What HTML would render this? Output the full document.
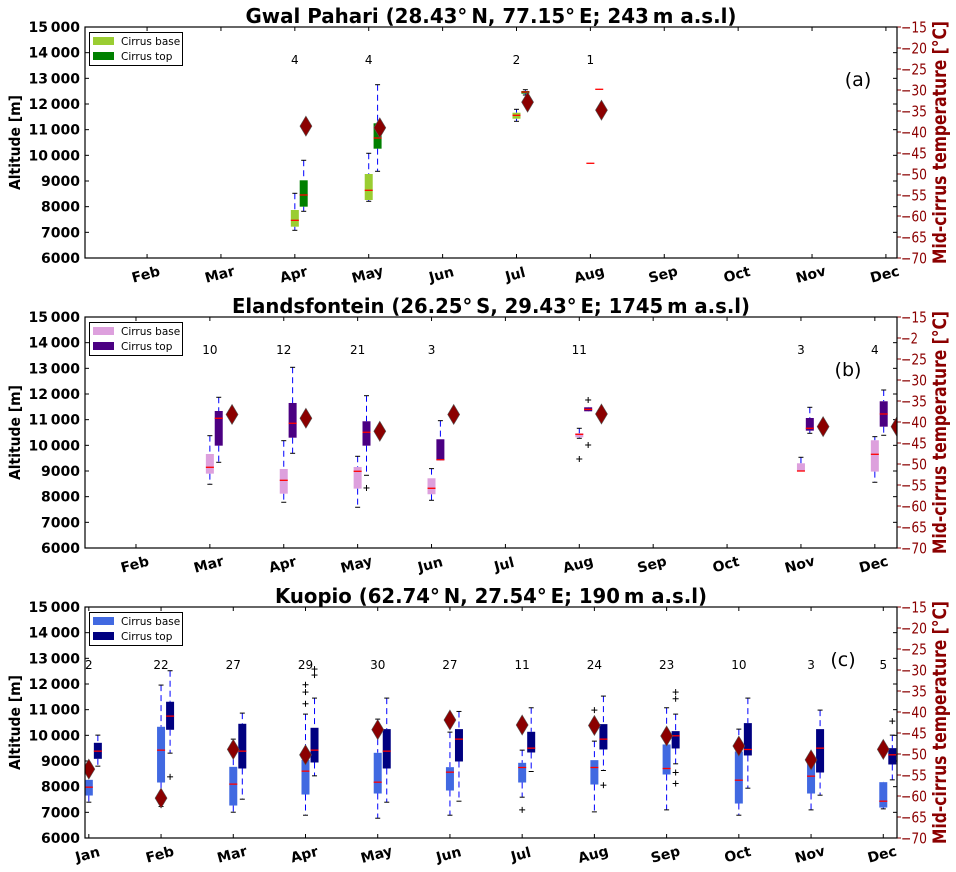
<!DOCTYPE html>
<html><head><meta charset="utf-8">
<style>
html,body{margin:0;padding:0;background:#fff;}
svg{display:block;font-family:"DejaVu Sans","Liberation Sans",sans-serif;}
</style></head>
<body>
<svg id="fig" width="956" height="872" viewBox="0 0 956 872" xmlns="http://www.w3.org/2000/svg"></svg>
<script>
// ---------- DATA ----------
const monthNames = ["Jan","Feb","Mar","Apr","May","Jun","Jul","Aug","Sep","Oct","Nov","Dec"];
const altTicks = [6000,7000,8000,9000,10000,11000,12000,13000,14000,15000];
const altTickLabels = ["6000","7000","8000","9000","10\u2009000","11\u2009000","12\u2009000","13\u2009000","14\u2009000","15\u2009000"];
const tempTicks = [-15,-20,-25,-30,-35,-40,-45,-50,-55,-60,-65,-70];

// Panel (a) Gwal Pahari: [whiskLo, q1, median, q3, whiskHi]
const aMonths = [4,5,7,8];
const aBase = [[7079,7220,7468,7870,8521],[8209,8260,8638,9273,10080],[11326,11427,11560,11661,11793],[9690,9690,9690,9690,9690]];
const aTop = [[7820,8000,8455,9027,9807],[9378,10259,10675,11248,12752],[12351,12403,12467,12506,12557],[12573,12573,12573,12573,12573]];
const aTemp = [-38.6,-39.0,-32.9,-34.8];
const aCounts = ["4","4","2","1"];
const aBaseOut = [[],[],[],[]];
const aTopOut = [[],[],[],[]];

// Panel (b) Elandsfontein
const bMonths = [3,4,5,6,8,11,12];
const bBase = [[8483,8896,9145,9663,10376],[7782,8117,8638,9079,10181],[7587,8313,8989,9157,9573],[7859,8094,8327,8716,9092],[10274,10313,10430,10469,10664],[9000,9000,9000,9300,9534],[8561,8977,9651,10197,10338]];
const bTop = [[9339,9987,11054,11338,11872],[9690,10298,10859,11650,13040],[8833,9987,10509,10937,11934],[9417,9417,9440,10236,10961],[11326,11326,11400,11482,11482],[10469,10572,10664,11065,11482],[10392,10727,11221,11716,12156]];
const bTemp = [-38.2,-39.1,-42.2,-38.2,-38.1,-41.1,-41.1];
const bCounts = ["10","12","21","3","11","3","4"];
const bBaseOut = [[],[],[],[],[9468],[],[]];
const bTopOut = [[],[],[8339],[],[10013,11767],[],[]];

// Panel (c) Kuopio
const cMonths = [1,2,3,4,5,6,7,8,9,10,11,12];
const cBase = [[7395,7655,7980,8266,8266],[7226,8162,9423,10333,11958],[7005,7265,8099,8773,9852],[6888,7694,8604,9046,10827],[6771,7733,8175,9319,10632],[6888,7850,8565,8760,10125],[7590,8162,8747,8929,9423],[7018,8084,8747,9033,9774],[7096,8474,8708,9644,11074],[6888,7343,8253,9371,10242],[7096,7733,8409,8981,9254],[7135,7187,7434,8175,8175]];
const cTop = [[8799,9085,9384,9709,10008],[9306,10216,10749,11308,12517],[7512,8708,9384,10450,10866],[8422,8942,9423,10294,11451],[7395,8708,9384,10242,11451],[7434,8981,9852,10242,10931],[8591,9332,9501,10138,11074],[8630,9449,9852,10437,11529],[8890,9488,9982,10164,10827],[7941,9215,9449,10476,11451],[7668,8552,9501,10242,10983],[8266,8864,9241,9501,10008]];
const cTemp = [-53.6,-60.5,-48.9,-50.2,-44.2,-41.9,-43.1,-43.2,-45.7,-48.1,-51.4,-48.9];
const cCounts = ["2","22","27","29","30","27","11","24","23","10","3","5"];
const cBaseOut = [[],[],[],[11230,11685,11971],[],[],[7096],[10983],[],[],[],[]];
const cTopOut = [[],[8383],[],[12348,12582],[],[],[],[8058],[11685,11425,8552,8123],[],[],[10554]];

// ---------- LAYOUT ----------
const panels = [
 {id:"a", title:"Gwal Pahari (28.43\u00b0\u2009N, 77.15\u00b0\u2009E; 243\u2009m a.s.l)", y0:27, y1:258, xmin:1.16, xmax:12.15, topOff:0.12, dOff:0.15,
  months:aMonths, base:aBase, top:aTop, temp:aTemp, counts:aCounts, bOut:aBaseOut, tOut:aTopOut, cB:"#9acd32", cT:"#008000", letter:"(a)", lx:858, ly:86, cy:37, tempLabels:null},
 {id:"b", title:"Elandsfontein (26.25\u00b0\u2009S, 29.43\u00b0\u2009E; 1745\u2009m a.s.l)", y0:317, y1:548, xmin:1.31, xmax:12.30, topOff:0.12, dOff:0.30,
  months:bMonths, base:bBase, top:bTop, temp:bTemp, counts:bCounts, bOut:bBaseOut, tOut:bTopOut, cB:"#dda0dd", cT:"#4b0082", letter:"(b)", lx:848, ly:376, cy:37, tempLabels:{1:"\u22122"}},
 {id:"c", title:"Kuopio (62.74\u00b0\u2009N, 27.54\u00b0\u2009E; 190\u2009m a.s.l)", y0:607, y1:838, xmin:0.947, xmax:12.19, topOff:0.125, dOff:0.0,
  months:cMonths, base:cBase, top:cTop, temp:cTemp, counts:cCounts, bOut:cBaseOut, tOut:cTopOut, cB:"#4169e1", cT:"#000080", letter:"(c)", lx:843, ly:666, cy:62, tempLabels:null}
];
const X0 = 85, X1 = 897;
const NS = "http://www.w3.org/2000/svg";
const svg = document.getElementById("fig");
function mk(tag, attrs, parent){ const e=document.createElementNS(NS,tag); for(const k in attrs) e.setAttribute(k,attrs[k]); (parent||svg).appendChild(e); return e; }
const DARKRED = "#8b0000";

panels.forEach(p=>{
  const g = mk("g",{});
  
  
  const xs = m => X0 + (m - p.xmin)/(p.xmax - p.xmin)*(X1-X0);
  const ys = v => p.y1 - (v-6000)/9000*(p.y1-p.y0);
  const ts = t => p.y0 + (-15 - t)/55*(p.y1-p.y0);
  const clipId = "clip-"+p.id;
  const cp = mk("clipPath",{id:clipId}, g);
  mk("rect",{x:X0,y:p.y0,width:X1-X0,height:p.y1-p.y0}, cp);

  const tt = mk("text",{x:(X0+X1)/2, y:p.y0-4, "text-anchor":"middle", "font-size":"20", "font-weight":"bold", fill:"#000", textLength: p.id==="a"?491:(p.id==="b"?518:432), lengthAdjust:"spacingAndGlyphs"}, g);
  tt.textContent = p.title;
  
  

  altTicks.forEach((v,i)=>{
    const y = ys(v);
    mk("line",{x1:X0,x2:X0+4,y1:y,y2:y,stroke:"#000","stroke-width":1}, g);
    mk("line",{x1:X1,x2:X1-4,y1:y,y2:y,stroke:"#000","stroke-width":1}, g);
    const t = mk("text",{x:X0-5,y:y+5,"text-anchor":"end","font-size":"14","font-weight":"bold",fill:"#000"}, g);
    t.textContent = altTickLabels[i];
    
    
  });
  const yl = mk("text",{transform:`translate(20,${(p.y0+p.y1)/2}) rotate(-90)`,"text-anchor":"middle","font-size":"15","font-weight":"bold",fill:"#000",textLength:95,lengthAdjust:"spacingAndGlyphs"}, g);
  yl.textContent = "Altitude [m]";
  
  

  tempTicks.forEach((t,i)=>{
    const y = ts(t);
    mk("line",{x1:X1,x2:X1+4,y1:y,y2:y,stroke:DARKRED,"stroke-width":1}, g);
    const lab = (p.tempLabels && p.tempLabels[i]) ? p.tempLabels[i] : "\u2212"+Math.abs(t);
    const tx = mk("text",{x:X1+4,y:y+5.5,"font-size":"15",fill:DARKRED,textLength: lab.length===3?26:17,lengthAdjust:"spacingAndGlyphs"}, g);
    tx.textContent = lab;
    
    
  });
  const rl = mk("text",{transform:`translate(946,${(p.y0+p.y1)/2}) rotate(-90)`,"text-anchor":"middle","font-size":"19","font-weight":"bold",fill:DARKRED,textLength:243,lengthAdjust:"spacingAndGlyphs"}, g);
  rl.textContent = "Mid-cirrus temperature [\u00b0C]";
  
  

  monthNames.forEach((mn,i)=>{
    const m=i+1; const x=xs(m);
    if(x < X0-1 || x > X1+1) return;
    mk("line",{x1:x,x2:x,y1:p.y1,y2:p.y1-4,stroke:"#000","stroke-width":1}, g);
    mk("line",{x1:x,x2:x,y1:p.y0,y2:p.y0+4,stroke:"#000","stroke-width":1}, g);
    const t = mk("text",{transform:`translate(${x},${p.y1+21}) rotate(-15)`,"text-anchor":"middle","font-size":"14","font-weight":"bold",fill:"#000"}, g);
    t.textContent = mn;
    
    
  });

  const mg = mk("g",{"clip-path":`url(#${clipId})`}, g);
  const bw = 8;
  function drawBox(cx, s, color, outs, name){
    const bg = mk("g",{}, mg);
    
    
    const [lo,q1,md,q3,hi] = s;
    mk("line",{x1:cx,x2:cx,y1:ys(hi),y2:ys(q3),stroke:"#0000ff","stroke-width":1,"stroke-dasharray":"6,4"}, bg);
    mk("line",{x1:cx,x2:cx,y1:ys(q1),y2:ys(lo),stroke:"#0000ff","stroke-width":1,"stroke-dasharray":"6,4"}, bg);
    if(hi!==q3) mk("line",{x1:cx-2.5,x2:cx+2.5,y1:ys(hi),y2:ys(hi),stroke:"#000","stroke-width":1}, bg);
    if(lo!==q1) mk("line",{x1:cx-2.5,x2:cx+2.5,y1:ys(lo),y2:ys(lo),stroke:"#000","stroke-width":1}, bg);
    const h = Math.max(ys(q1)-ys(q3),0);
    if(h>0) mk("rect",{x:cx-bw/2,y:ys(q3),width:bw,height:h,fill:color}, bg);
    mk("line",{x1:cx-bw/2,x2:cx+bw/2,y1:ys(md),y2:ys(md),stroke:"#ff0000","stroke-width":1.3}, bg);
    outs.forEach(o=>{
      const y=ys(o);
      mk("line",{x1:cx-3,x2:cx+3,y1:y,y2:y,stroke:"#000","stroke-width":1}, bg);
      mk("line",{x1:cx,x2:cx,y1:y-3,y2:y+3,stroke:"#000","stroke-width":1}, bg);
    });
  }
  p.months.forEach((m,i)=>{
    drawBox(xs(m), p.base[i], p.cB, p.bOut[i], 'cirrus-base-box-'+monthNames[m-1].toLowerCase());
    drawBox(xs(m+p.topOff), p.top[i], p.cT, p.tOut[i], 'cirrus-top-box-'+monthNames[m-1].toLowerCase());
    const dx = xs(m+p.dOff), dy = ts(p.temp[i]);
    const d = mk("polygon",{points:`${dx},${dy-10} ${dx+6},${dy} ${dx},${dy+10} ${dx-6},${dy}`,fill:DARKRED,stroke:"#555","stroke-width":0.6}, mg);
    
    
  });
  p.months.forEach((m,i)=>{
    const t = mk("text",{x:xs(m),y:p.y0+p.cy,"text-anchor":"middle","font-size":"12",fill:"#000"}, g);
    t.textContent = p.counts[i];
    
    
  });

  const fr = mk("rect",{x:X0,y:p.y0,width:X1-X0,height:p.y1-p.y0,fill:"none",stroke:"#000","stroke-width":1.2}, g);
  
  

  const lt = mk("text",{x:p.lx,y:p.ly,"text-anchor":"middle","font-size":"19",fill:"#000"}, g);
  lt.textContent = p.letter;
  
  

  const lg = mk("g",{}, g);
  
  
  mk("rect",{x:89.5,y:p.y0+5.5,width:93,height:33,fill:"#fff",stroke:"#000","stroke-width":1}, lg);
  [["Cirrus base",p.cB,14],["Cirrus top",p.cT,29]].forEach(([lab,col,dy])=>{
    const e = mk("g",{}, lg);
    
    
    mk("rect",{x:93,y:p.y0+dy-4,width:21,height:8,fill:col}, e);
    const t = mk("text",{x:121,y:p.y0+dy+4,"font-size":"10.5",fill:"#000"}, e);
    t.textContent = lab;
  });
});
</script>
</body></html>
